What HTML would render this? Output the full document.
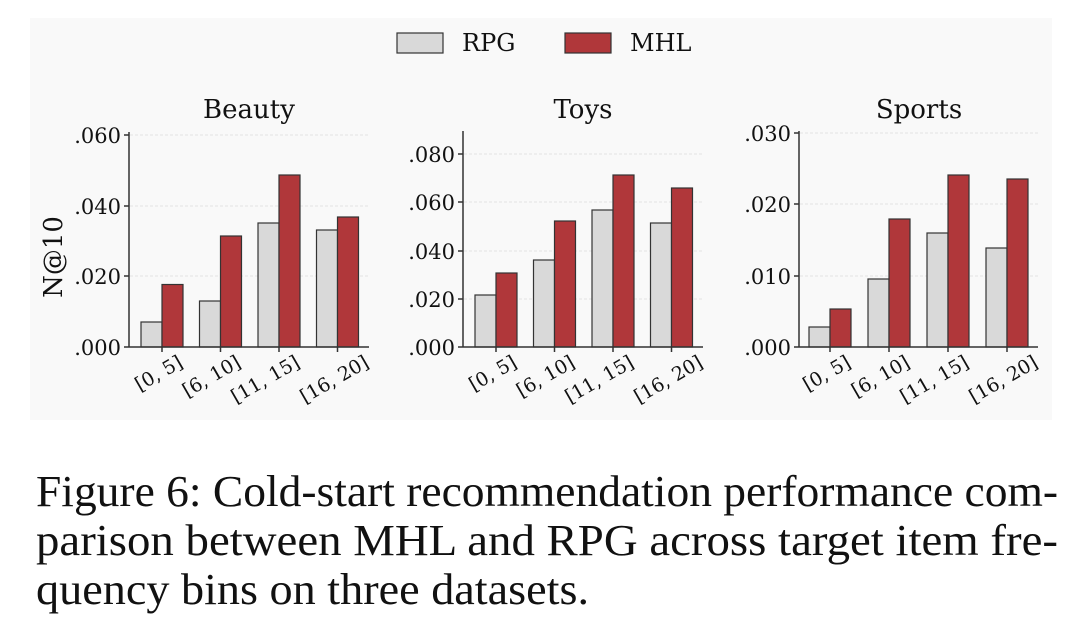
<!DOCTYPE html>
<html><head><meta charset="utf-8"><style>
body{margin:0;width:1080px;height:639px;background:#fff;overflow:hidden}
svg{display:block}
</style></head><body>
<svg width="1080" height="639" xmlns="http://www.w3.org/2000/svg" font-family="DejaVu Serif, serif">
<rect x="30" y="18" width="1022" height="402" fill="#f9f9f9"/>
<!-- legend -->
<rect x="397" y="33" width="46" height="20" fill="#d9d9d9" stroke="#333" stroke-width="1.2"/>
<text x="462" y="51" font-size="24" fill="#111">RPG</text>
<rect x="565" y="33" width="46" height="20" fill="#b0373a" stroke="#333" stroke-width="1.2"/>
<text x="630" y="51" font-size="24" fill="#111">MHL</text>
<text x="46" y="241" font-size="26" fill="#111" text-anchor="middle" transform="rotate(-90 62 241)">N@10</text>
<g id="beauty">
<text x="249" y="118" font-size="26" text-anchor="middle" fill="#111">Beauty</text>
<g stroke="#e4e4e4" stroke-dasharray="3,2" stroke-width="1"><line x1="130" y1="135" x2="369" y2="135"/><line x1="130" y1="206" x2="369" y2="206"/><line x1="130" y1="276" x2="369" y2="276"/></g>
<g stroke="#333" stroke-width="1.2">
<rect x="141" y="322" width="21" height="25" fill="#d9d9d9"/><rect x="162" y="284.5" width="21" height="62.5" fill="#b0373a"/>
<rect x="199.5" y="301" width="21" height="46" fill="#d9d9d9"/><rect x="220.5" y="236" width="21" height="111" fill="#b0373a"/>
<rect x="258" y="223" width="21" height="124" fill="#d9d9d9"/><rect x="279" y="175" width="21" height="172" fill="#b0373a"/>
<rect x="316.5" y="230" width="21" height="117" fill="#d9d9d9"/><rect x="337.5" y="217" width="21" height="130" fill="#b0373a"/>
</g>
<path d="M129 132V347H369M124 135H129M124 206H129M124 276H129M124 347H129M162 347v5M220.5 347v5M279 347v5M337.5 347v5" stroke="#333" stroke-width="1.5" fill="none"/>
<g font-size="21" text-anchor="end" fill="#111"><text x="121" y="143">.060</text><text x="121" y="214">.040</text><text x="121" y="284">.020</text><text x="121" y="355">.000</text></g>
<g font-size="19" text-anchor="end" fill="#111">
<text transform="translate(184 366) rotate(-30)">[0, 5]</text>
<text transform="translate(242 366) rotate(-30)">[6, 10]</text>
<text transform="translate(301 366) rotate(-30)">[11, 15]</text>
<text transform="translate(370 366) rotate(-30)">[16, 20]</text></g>
</g>
<g transform="translate(334 0)">
<text x="249" y="118" font-size="26" text-anchor="middle" fill="#111">Toys</text>
<g stroke="#e4e4e4" stroke-dasharray="3,2" stroke-width="1"><line x1="130" y1="154" x2="369" y2="154"/><line x1="130" y1="202" x2="369" y2="202"/><line x1="130" y1="251" x2="369" y2="251"/><line x1="130" y1="299" x2="369" y2="299"/></g>
<g stroke="#333" stroke-width="1.2">
<rect x="141" y="295" width="21" height="52" fill="#d9d9d9"/><rect x="162" y="273" width="21" height="74" fill="#b0373a"/>
<rect x="199.5" y="260" width="21" height="87" fill="#d9d9d9"/><rect x="220.5" y="221" width="21" height="126" fill="#b0373a"/>
<rect x="258" y="210" width="21" height="137" fill="#d9d9d9"/><rect x="279" y="175" width="21" height="172" fill="#b0373a"/>
<rect x="316.5" y="223" width="21" height="124" fill="#d9d9d9"/><rect x="337.5" y="188" width="21" height="159" fill="#b0373a"/>
</g>
<path d="M129 131V347H369M124 154H129M124 202H129M124 251H129M124 299H129M124 347H129M162 347v5M220.5 347v5M279 347v5M337.5 347v5" stroke="#333" stroke-width="1.5" fill="none"/>
<g font-size="21" text-anchor="end" fill="#111"><text x="121" y="162">.080</text><text x="121" y="210">.060</text><text x="121" y="259">.040</text><text x="121" y="307">.020</text><text x="121" y="355">.000</text></g>
<g font-size="19" text-anchor="end" fill="#111">
<text transform="translate(184 366) rotate(-30)">[0, 5]</text>
<text transform="translate(242 366) rotate(-30)">[6, 10]</text>
<text transform="translate(301 366) rotate(-30)">[11, 15]</text>
<text transform="translate(370 366) rotate(-30)">[16, 20]</text></g>
</g>
<g transform="translate(670 0)">
<text x="249" y="118" font-size="26" text-anchor="middle" fill="#111">Sports</text>
<g stroke="#e4e4e4" stroke-dasharray="3,2" stroke-width="1"><line x1="130" y1="133" x2="369" y2="133"/><line x1="130" y1="204" x2="369" y2="204"/><line x1="130" y1="276" x2="369" y2="276"/></g>
<g stroke="#333" stroke-width="1.2">
<rect x="139" y="327" width="21" height="20" fill="#d9d9d9"/><rect x="160" y="309" width="21" height="38" fill="#b0373a"/>
<rect x="198" y="279" width="21" height="68" fill="#d9d9d9"/><rect x="219" y="219" width="21" height="128" fill="#b0373a"/>
<rect x="257" y="233" width="21" height="114" fill="#d9d9d9"/><rect x="278" y="175" width="21" height="172" fill="#b0373a"/>
<rect x="316" y="248" width="21" height="99" fill="#d9d9d9"/><rect x="337" y="179" width="21" height="168" fill="#b0373a"/>
</g>
<path d="M129 131V347H368M124 133H129M124 204H129M124 276H129M124 347H129M160 347v5M219 347v5M278 347v5M337 347v5" stroke="#333" stroke-width="1.5" fill="none"/>
<g font-size="21" text-anchor="end" fill="#111"><text x="121" y="141">.030</text><text x="121" y="212">.020</text><text x="121" y="284">.010</text><text x="121" y="355">.000</text></g>
<g font-size="19" text-anchor="end" fill="#111">
<text transform="translate(182 366) rotate(-30)">[0, 5]</text>
<text transform="translate(241 366) rotate(-30)">[6, 10]</text>
<text transform="translate(300 366) rotate(-30)">[11, 15]</text>
<text transform="translate(369 366) rotate(-30)">[16, 20]</text></g>
</g>
<g font-family="Liberation Serif, serif" font-size="44" fill="#111">
<text x="36" y="506" textLength="1022" lengthAdjust="spacingAndGlyphs">Figure 6: Cold-start recommendation performance com-</text>
<text x="36" y="555" textLength="1022" lengthAdjust="spacingAndGlyphs">parison between MHL and RPG across target item fre-</text>
<text x="36" y="604" textLength="553" lengthAdjust="spacingAndGlyphs">quency bins on three datasets.</text>
</g>
</svg>
</body></html>
